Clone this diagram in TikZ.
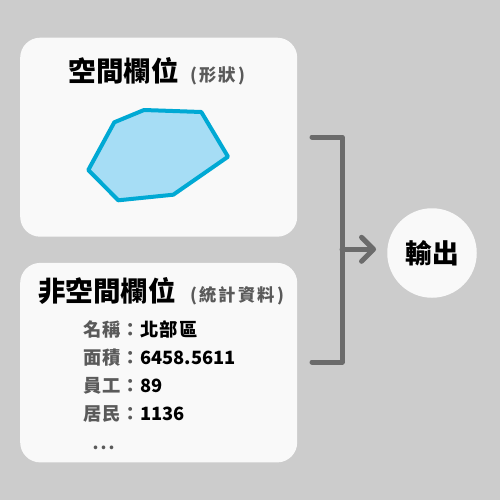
\documentclass[tikz,border=0pt]{standalone}
\usepackage{fontspec}
\setmainfont{Noto Sans CJK TC}
\usetikzlibrary{arrows.meta}
\definecolor{bg}{HTML}{CCCCCC}
\definecolor{boxfill}{HTML}{F9F9F9}
\definecolor{polyline}{HTML}{00A9D4}
\definecolor{polyfill}{HTML}{A6DDF5}
\definecolor{brk}{HTML}{6B6B6B}
\definecolor{subgray}{HTML}{5A5A5A}
\definecolor{labgray}{HTML}{5A5A5A}
\tikzset{
  panel/.style={fill=boxfill, rounded corners=20pt, anchor=north west, inner sep=0pt},
  poly/.style={draw=polyline, fill=polyfill, line width=4pt, line join=round},
  brack/.style={draw=brk, line width=5pt, line cap=round, line join=round},
  title/.style={anchor=base west, inner sep=0pt, font=\fontsize{27.5}{30}\selectfont\bfseries},
  subt/.style={anchor=base west, inner sep=0pt, text=subgray, font=\fontsize{17.3}{20}\selectfont\bfseries\addfontfeatures{LetterSpace=12}},
  item/.style={anchor=base west, inner sep=0pt, font=\fontsize{18.3}{22}\selectfont\bfseries},
  outc/.style={circle, fill=boxfill, minimum size=89.5pt, inner sep=0pt, font=\fontsize{26.7}{30}\selectfont\bfseries}
}
\newcommand{\lab}[1]{{\color{labgray}\addfontfeatures{LetterSpace=5}#1}}
\newcommand{\cval}[1]{{\addfontfeatures{LetterSpace=6}#1}}
\newcommand{\nval}[1]{{#1}}
\begin{document}
\begin{tikzpicture}[x=1pt,y=-1pt]
\fill[bg] (0,0) rectangle (500,500);
\useasboundingbox (0,0) rectangle (500,500);
% panels
\node (top) [panel, minimum width=277pt, minimum height=199pt] at (20,37.5) {};
\node (bot) [panel, minimum width=277pt, minimum height=199.5pt] at (20,262.7) {};
% top title
\node (t1) [title] at (68.5,81.5) {空間欄位};
\node (t1s) [subt] at (190.4,81.5) {(形狀)};
% polygon
\draw[poly] (114.3,122.3) -- (144,110) -- (201.3,112) -- (228,156.7) -- (173.3,194.7) -- (118.3,200.3) -- (88.3,170) -- cycle;
% bottom title
\node (t2) [title] at (38,301.3) {非空間欄位};
\node (t2s) [subt] at (190.4,301.3) {(統計資料)};
% items
\node (i1) [item] at (83.3,336) {\lab{名稱：}\cval{北部區}};
\node (i2) [item] at (83.3,364) {\lab{面積：}\nval{6458.5611}};
\node (i3) [item] at (83.3,392) {\lab{員工：}\nval{89}};
\node (i4) [item] at (83.3,420) {\lab{居民：}\nval{1136}};
\node (i5) [item, text=labgray, font=\fontsize{17}{20}\selectfont\bfseries\addfontfeatures{LetterSpace=12}] at (92.5,449) {...};
% output circle
\node (out) [outc] at (432,253) {輸出};
% bracket
\coordinate (bt) at (312,137);
\coordinate (bb) at (312,362);
\coordinate (bm) at (342,249.3);
\draw[brack] (bt) -- (342,137) -- (342,362) -- (bb);
\draw[brack, -{Straight Barb[round, length=12pt, width=24pt]}, shorten >=11pt] (bm) -- (out.west |- bm);
\end{tikzpicture}
\end{document}
